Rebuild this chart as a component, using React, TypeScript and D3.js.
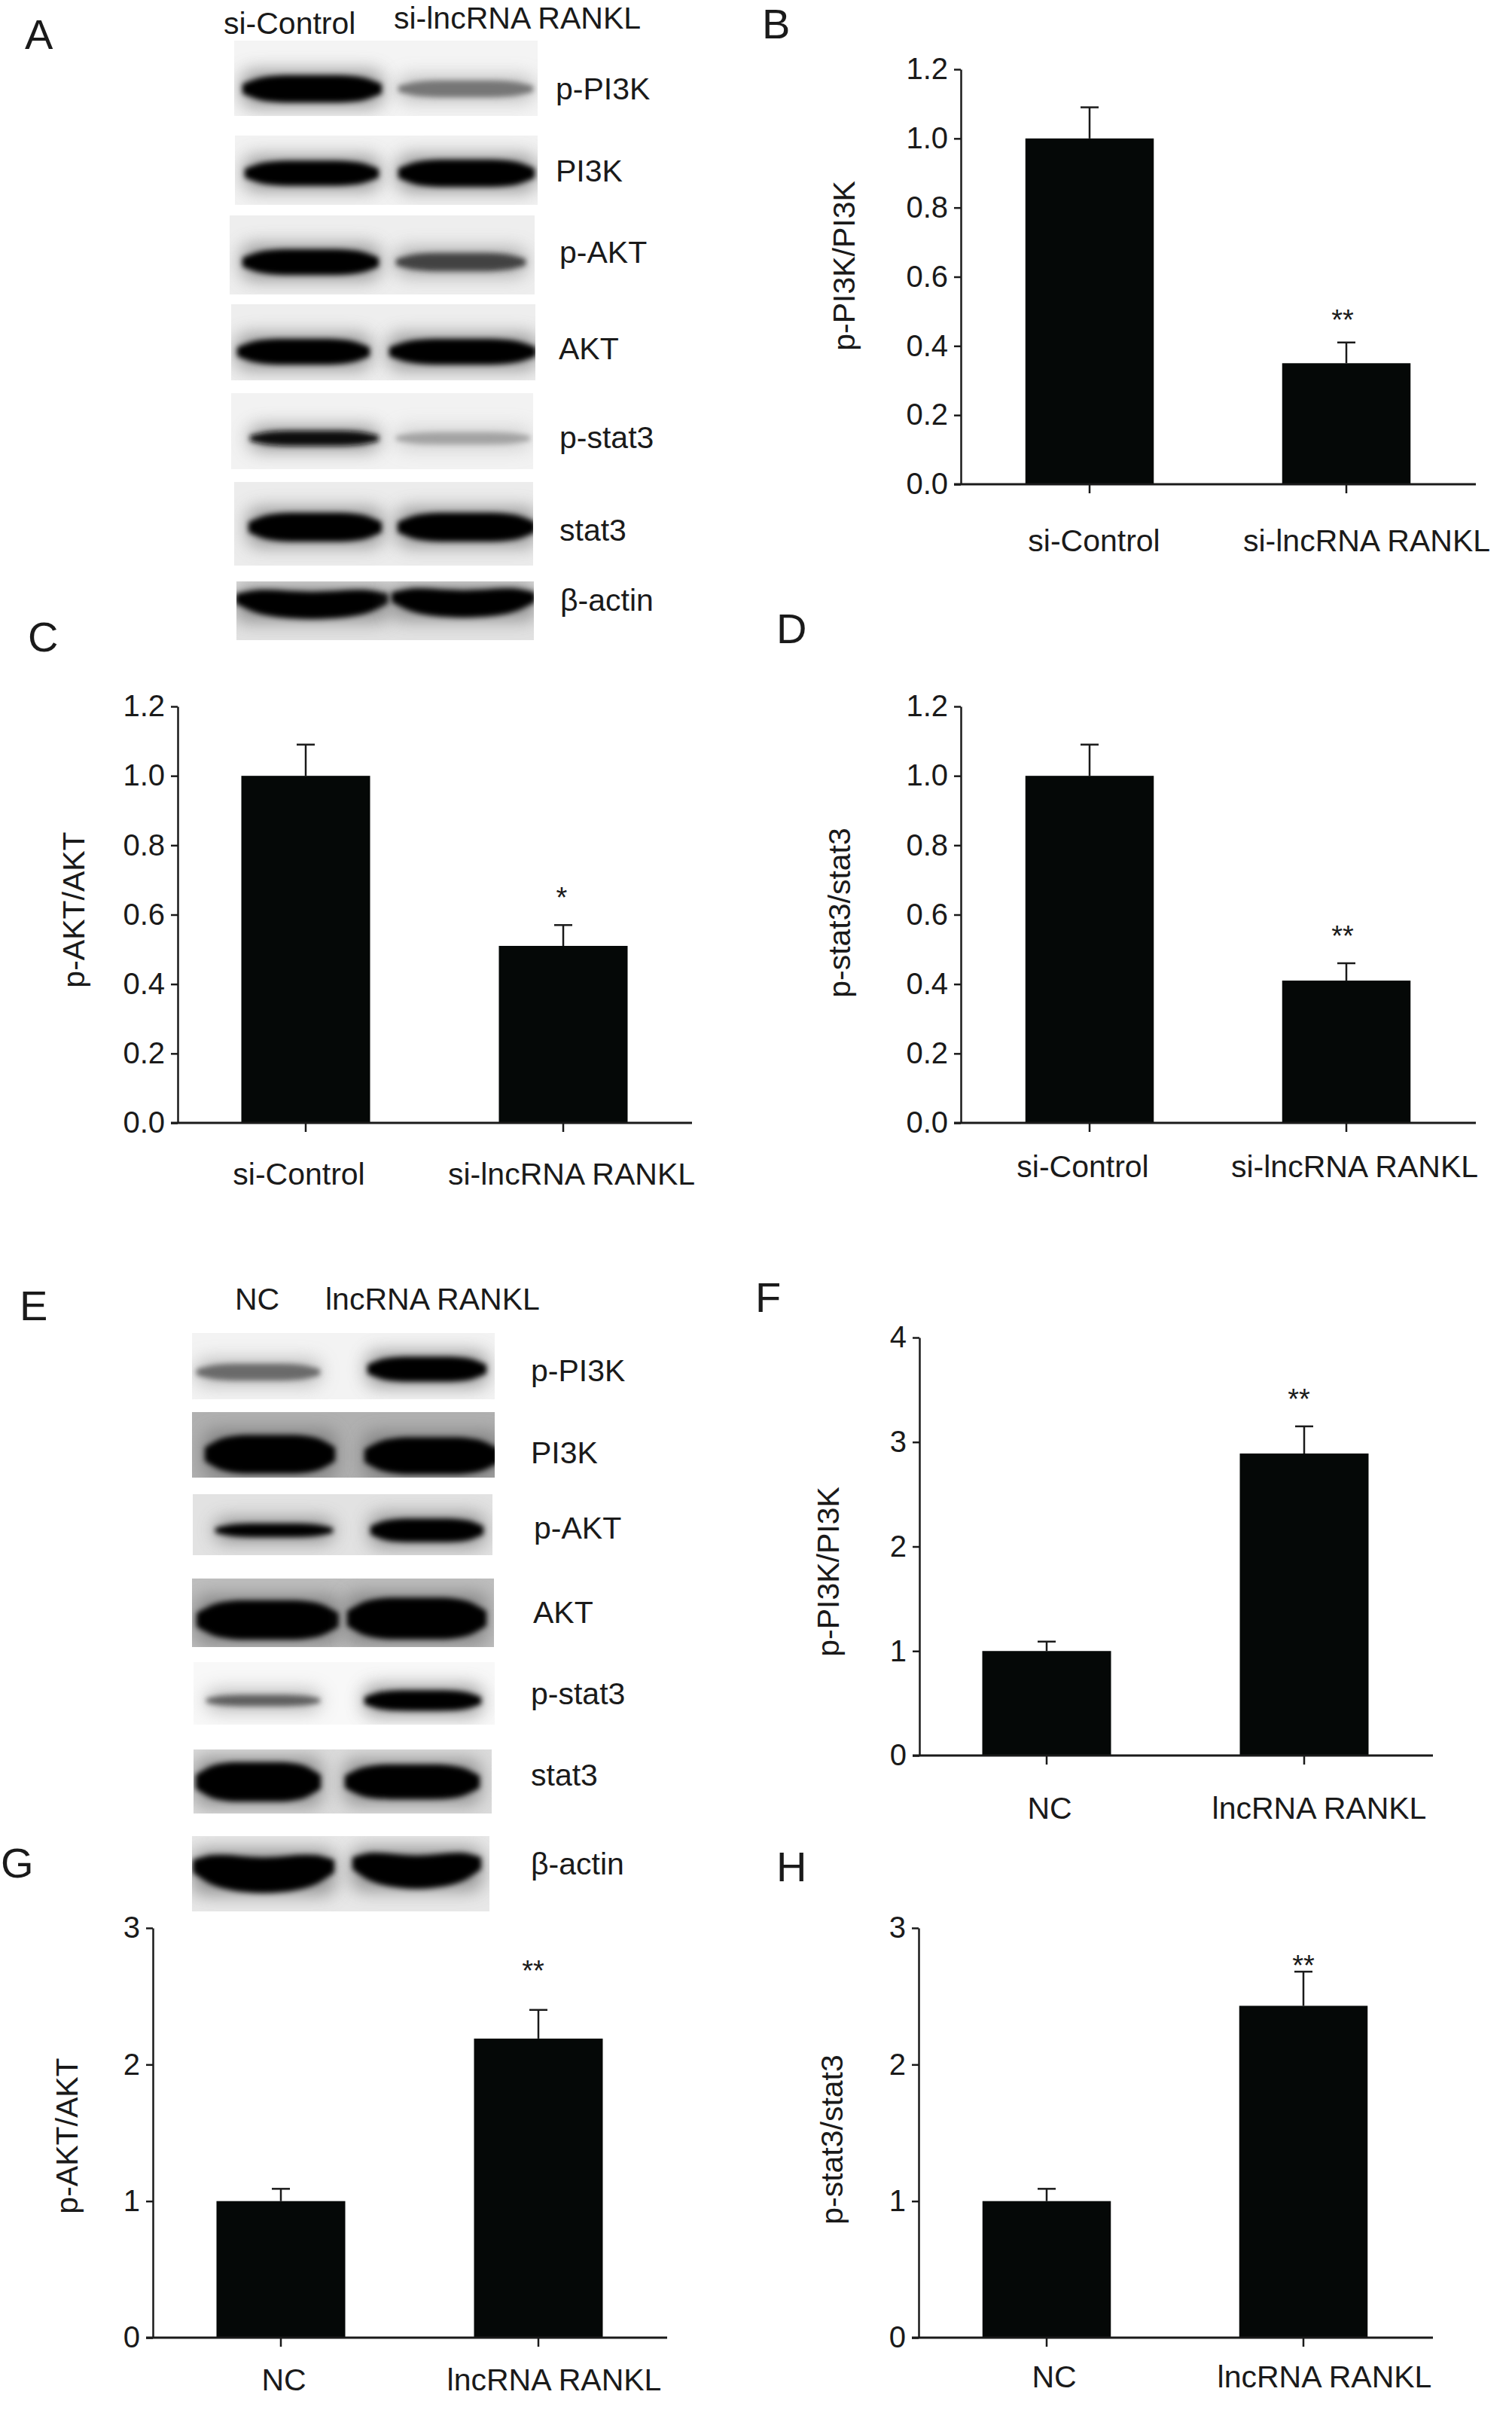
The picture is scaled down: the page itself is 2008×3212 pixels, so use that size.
import React, { useEffect, useRef } from "react";
import * as d3 from "d3";

// bar values, control group then treated group
const siCategories = ["si-Control", "si-lncRNA RANKL"];
const ncCategories = ["NC", "lncRNA RANKL"];
const ticks12 = [0, 0.2, 0.4, 0.6, 0.8, 1.0, 1.2];
const ticks4 = [0, 1, 2, 3, 4];
const ticks3 = [0, 1, 2, 3];

const valuesB = [1.0, 0.35];
const errorTopsB = [1.09, 0.41];
const valuesC = [1.0, 0.51];
const errorTopsC = [1.09, 0.57];
const valuesD = [1.0, 0.41];
const errorTopsD = [1.09, 0.46];
const valuesF = [1.0, 2.89];
const errorTopsF = [1.09, 3.15];
const valuesG = [1.0, 2.19];
const errorTopsG = [1.09, 2.4];
const valuesH = [1.0, 2.43];
const errorTopsH = [1.09, 2.68];

// blot labels and band darkness per lane (0 = none, 1 = black)
const blotLabelsA = ["p-PI3K", "PI3K", "p-AKT", "AKT", "p-stat3", "stat3", "β-actin"];
const darknessA = [
  [1, 0.5],
  [1, 1],
  [1, 0.72],
  [1, 1],
  [0.95, 0.3],
  [1, 1],
  [1, 1],
];
const blotLabelsE = ["p-PI3K", "PI3K", "p-AKT", "AKT", "p-stat3", "stat3", "β-actin"];
const darknessE = [
  [0.55, 1],
  [1, 1],
  [1, 1],
  [1, 1],
  [0.6, 1],
  [1, 1],
  [1, 1],
];

const FONT = "'Liberation Sans', Arial, sans-serif";
const INK = "#1a1a1a";
const BAR = "#050807";
const TEXT_SIZE = 41;
const TICK_SIZE = 40;
const LETTER_SIZE = 56;

const charts = [
  { letter: "B", lx: 1012, ly: 51, title: "p-PI3K/PI3K", cats: siCategories, vals: valuesB, tops: errorTopsB, ticks: ticks12, fmt: ".1f",
    ax: 1276, y0: 643, y1: 92, end: 1960, c1: 1447, c2: 1788, labelX: [1453, 1815], labelY: 732, titleX: 1135, titleY: 353, stars: ["", "**"], starX: 1783, starY: 419 },
  { letter: "C", lx: 37, ly: 865, title: "p-AKT/AKT", cats: siCategories, vals: valuesC, tops: errorTopsC, ticks: ticks12, fmt: ".1f",
    ax: 236, y0: 1491, y1: 938, end: 919, c1: 406, c2: 748, labelX: [397, 759], labelY: 1573, titleX: 112, titleY: 1208, stars: ["", "*"], starX: 746, starY: 1186 },
  { letter: "D", lx: 1031, ly: 854, title: "p-stat3/stat3", cats: siCategories, vals: valuesD, tops: errorTopsD, ticks: ticks12, fmt: ".1f",
    ax: 1276, y0: 1491, y1: 938, end: 1960, c1: 1447, c2: 1788, labelX: [1438, 1799], labelY: 1563, titleX: 1129, titleY: 1212, stars: ["", "**"], starX: 1783, starY: 1237 },
  { letter: "F", lx: 1003, ly: 1742, title: "p-PI3K/PI3K", cats: ncCategories, vals: valuesF, tops: errorTopsF, ticks: ticks4, fmt: "d",
    ax: 1221, y0: 2331, y1: 1776, end: 1903, c1: 1390, c2: 1732, labelX: [1394, 1752], labelY: 2415, titleX: 1114, titleY: 2087, stars: ["", "**"], starX: 1725, starY: 1852 },
  { letter: "G", lx: 1, ly: 2493, title: "p-AKT/AKT", cats: ncCategories, vals: valuesG, tops: errorTopsG, ticks: ticks3, fmt: "d",
    ax: 203, y0: 3104, y1: 2560, end: 886, c1: 373, c2: 715, labelX: [377, 736], labelY: 3174, titleX: 103, titleY: 2836, stars: ["", "**"], starX: 708, starY: 2611 },
  { letter: "H", lx: 1031, ly: 2498, title: "p-stat3/stat3", cats: ncCategories, vals: valuesH, tops: errorTopsH, ticks: ticks3, fmt: "d",
    ax: 1220, y0: 3104, y1: 2560, end: 1903, c1: 1390, c2: 1731, labelX: [1400, 1759], labelY: 3170, titleX: 1119, titleY: 2841, stars: ["", "**"], starX: 1731, starY: 2604 },
];

// where each blot strip sits on the page; bow is how far the band sags in the middle
const stripsA = [
  { x0: 311, x1: 714, y0: 54, y1: 154, bg: 244, bow: 0, labelX: 738, labelY: 132, lanes: [[325, 504, 118, 36], [532, 705, 118, 22]] },
  { x0: 312, x1: 714, y0: 180, y1: 272, bg: 242, bow: 0, labelX: 738, labelY: 241, lanes: [[328, 500, 230, 33], [532, 707, 230, 36]] },
  { x0: 305, x1: 710, y0: 286, y1: 391, bg: 238, bow: 0, labelX: 743, labelY: 349, lanes: [[325, 500, 348, 34], [529, 695, 348, 24]] },
  { x0: 307, x1: 711, y0: 404, y1: 505, bg: 238, bow: 0, labelX: 742, labelY: 477, lanes: [[318, 488, 467, 34], [520, 709, 467, 34]] },
  { x0: 307, x1: 708, y0: 522, y1: 623, bg: 242, bow: 0, labelX: 743, labelY: 595, lanes: [[335, 500, 582, 20], [529, 701, 582, 16]] },
  { x0: 311, x1: 708, y0: 640, y1: 751, bg: 236, bow: 0, labelX: 743, labelY: 718, lanes: [[333, 504, 700, 38], [531, 708, 700, 38]] },
  { x0: 314, x1: 709, y0: 772, y1: 850, bg: 226, bow: 6, labelX: 744, labelY: 811, lanes: [[316, 513, 801, 36], [523, 708, 799, 36]] },
];
const stripsE = [
  { x0: 255, x1: 657, y0: 1770, y1: 1858, bg: 243, bow: 0, labelX: 705, labelY: 1834, lanes: [[264, 422, 1822, 22], [491, 643, 1818, 33]] },
  { x0: 255, x1: 657, y0: 1875, y1: 1962, bg: 176, bow: 0, labelX: 705, labelY: 1943, lanes: [[275, 442, 1931, 51], [487, 660, 1933, 49]] },
  { x0: 256, x1: 654, y0: 1984, y1: 2065, bg: 226, bow: 0, labelX: 709, labelY: 2043, lanes: [[289, 439, 2032, 18], [495, 639, 2032, 31]] },
  { x0: 255, x1: 656, y0: 2096, y1: 2187, bg: 190, bow: 0, labelX: 708, labelY: 2155, lanes: [[264, 447, 2151, 52], [464, 643, 2149, 55]] },
  { x0: 257, x1: 657, y0: 2207, y1: 2290, bg: 248, bow: 0, labelX: 705, labelY: 2263, lanes: [[277, 422, 2258, 15], [487, 636, 2258, 27]] },
  { x0: 257, x1: 653, y0: 2323, y1: 2408, bg: 220, bow: 0, labelX: 705, labelY: 2371, lanes: [[263, 423, 2366, 52], [461, 634, 2366, 46]] },
  { x0: 255, x1: 650, y0: 2438, y1: 2538, bg: 232, bow: 8, labelX: 705, labelY: 2489, lanes: [[259, 441, 2486, 47], [471, 636, 2482, 44]] },
];

// outline of a band: relative thickness and sag along the lane
const bandThickness = [0.35, 0.8, 0.97, 1, 1, 1, 0.97, 0.8, 0.35];
const bandSag = [-1, -0.45, 0, 0.35, 0.5, 0.35, 0, -0.45, -1];

const App = () => {
  const ref = useRef<SVGSVGElement>(null);

  useEffect(() => {
    const svg = d3.select(ref.current);
    svg.selectAll("*").remove();

    const defs = svg.append("defs");
    defs.append("filter").attr("id", "soft").attr("x", "-20%").attr("y", "-60%").attr("width", "140%").attr("height", "220%")
      .append("feGaussianBlur").attr("stdDeviation", 3.5);
    defs.append("filter").attr("id", "halo").attr("x", "-20%").attr("y", "-100%").attr("width", "140%").attr("height", "300%")
      .append("feGaussianBlur").attr("stdDeviation", 12);

    const grey = d3.scaleLinear<string>().domain([0, 1]).range(["#e8e8e8", "#030303"]);

    const addText = (s: string, x: number, y: number, size = TEXT_SIZE, anchor = "start") =>
      svg.append("text").attr("x", x).attr("y", y).attr("font-family", FONT).attr("font-size", size)
        .attr("fill", INK).attr("text-anchor", anchor).text(s);

    // --- blots ---
    const drawBlot = (strips: typeof stripsA, names: string[], dark: number[][], id: string) => {
      strips.forEach((st, i) => {
        defs.append("clipPath").attr("id", `${id}${i}`)
          .append("rect").attr("x", st.x0).attr("y", st.y0).attr("width", st.x1 - st.x0).attr("height", st.y1 - st.y0);
        const g = svg.append("g").attr("clip-path", `url(#${id}${i})`);
        g.append("rect").attr("x", st.x0).attr("y", st.y0).attr("width", st.x1 - st.x0).attr("height", st.y1 - st.y0)
          .attr("fill", d3.rgb(st.bg, st.bg, st.bg).formatHex());
        st.lanes.forEach((l, j) => {
          const [a, b, cy, h] = l;
          const d = dark[i][j];
          const lx = d3.scaleLinear().domain([0, bandThickness.length - 1]).range([a - 3, b + 3]);
          const band = d3.area<number>()
            .x((_, k) => lx(k))
            .y0((t, k) => cy + bandSag[k] * st.bow - (t * h) / 2)
            .y1((t, k) => cy + bandSag[k] * st.bow + (t * h) / 2)
            .curve(d3.curveCatmullRom);
          // grey smear behind the band
          g.append("rect").attr("x", a - 4).attr("y", cy - h / 2 - 6).attr("width", b - a + 8).attr("height", h + 12)
            .attr("rx", 14).attr("fill", grey(d * 0.55)).attr("opacity", 0.7).attr("filter", "url(#halo)");
          g.append("path").attr("d", band(bandThickness)).attr("fill", grey(d)).attr("filter", "url(#soft)");
        });
        addText(names[i], st.labelX, st.labelY);
      });
    };
    drawBlot(stripsA, blotLabelsA, darknessA, "a");
    drawBlot(stripsE, blotLabelsE, darknessE, "e");

    addText("A", 33, 65, LETTER_SIZE);
    addText("si-Control", 297, 45);
    addText("si-lncRNA RANKL", 523, 38);
    addText("E", 26, 1753, LETTER_SIZE);
    addText("NC", 312, 1739);
    addText("lncRNA RANKL", 432, 1739);

    // --- bar panels ---
    charts.forEach((c) => {
      const step = c.c2 - c.c1;
      const x = d3.scaleBand<string>().domain(c.cats).range([c.c1 - step / 2, c.c2 + step / 2]).paddingInner(0.5).paddingOuter(0.25);
      const y = d3.scaleLinear().domain([0, c.ticks[c.ticks.length - 1]]).range([c.y0, c.y1]);
      const g = svg.append("g");
      const pts = c.cats.map((cat, i) => ({ cat, v: c.vals[i], top: c.tops[i], star: c.stars[i] }));

      // error bars go under the bars
      pts.forEach((p) => {
        const cx = x(p.cat)! + x.bandwidth() / 2;
        g.append("line").attr("x1", cx).attr("x2", cx).attr("y1", y(p.v)).attr("y2", y(p.top)).attr("stroke", INK).attr("stroke-width", 2.5);
        g.append("line").attr("x1", cx - 12).attr("x2", cx + 12).attr("y1", y(p.top)).attr("y2", y(p.top)).attr("stroke", INK).attr("stroke-width", 2.5);
      });

      g.selectAll("rect.bar").data(pts).join("rect").attr("class", "bar")
        .attr("x", (d) => x(d.cat)!).attr("width", x.bandwidth())
        .attr("y", (d) => y(d.v)).attr("height", (d) => c.y0 - y(d.v)).attr("fill", BAR);

      const yAxis = d3.axisLeft(y).tickValues(c.ticks).tickSize(9).tickPadding(8).tickSizeOuter(0).tickFormat(d3.format(c.fmt) as any);
      const ya = svg.append("g").attr("transform", `translate(${c.ax},0)`).call(yAxis);
      ya.selectAll("path,line").attr("stroke", INK).attr("stroke-width", 2.5);
      ya.selectAll("text").attr("font-family", FONT).attr("font-size", TICK_SIZE).attr("fill", INK);

      const xAxis = d3.axisBottom(x).tickSize(12).tickFormat(() => "").tickSizeOuter(0);
      const xa = svg.append("g").attr("transform", `translate(0,${c.y0})`).call(xAxis);
      xa.select(".domain").remove();
      xa.selectAll("line").attr("stroke", INK).attr("stroke-width", 2.5);
      svg.append("line").attr("x1", c.ax - 9).attr("x2", c.end).attr("y1", c.y0).attr("y2", c.y0).attr("stroke", INK).attr("stroke-width", 3);

      c.cats.forEach((cat, i) => addText(cat, c.labelX[i], c.labelY, TEXT_SIZE, "middle"));
      addText(c.letter, c.lx, c.ly, LETTER_SIZE);
      svg.append("text").attr("transform", `translate(${c.titleX},${c.titleY}) rotate(-90)`)
        .attr("font-family", FONT).attr("font-size", TEXT_SIZE).attr("fill", INK).attr("text-anchor", "middle").text(c.title);
      pts.filter((p) => p.star).forEach((p) => addText(p.star, c.starX, c.starY + 19, 38, "middle"));
    });
  }, []);

  return <svg ref={ref} width={2008} height={3212} style={{ position: "absolute", left: 0, top: 0, background: "#fff" }} />;
};

export default App;
